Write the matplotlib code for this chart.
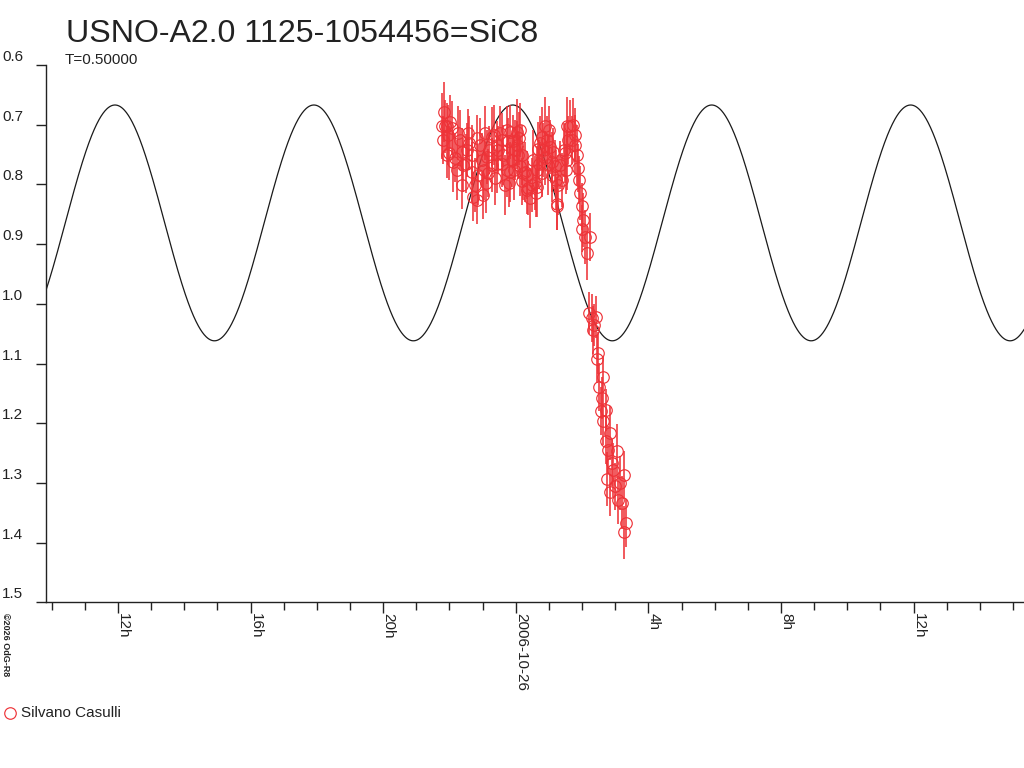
import matplotlib
matplotlib.use('Agg')
import matplotlib.pyplot as plt
import matplotlib.transforms as mtransforms
from matplotlib.lines import Line2D
import numpy as np

plt.rcParams['font.family'] = ['Liberation Sans', 'DejaVu Sans']

title = "USNO-A2.0 1125-1054456=SiC8"
period_label = "T=0.50000"
observer = "Silvano Casulli"
credit = "\u00a92026 OdG-R8"

# observation times: hours relative to 2006-10-26 00:00
hours = [
    -2.24, -2.16, -2.14, -2.09, -2.04, -1.99, -2.06, -2.01, -1.89, -1.84,
    -1.74, -1.69, -1.63, -1.59, -1.51, -1.44, -1.40, -1.33, -1.28, -1.23,
    -1.18, -1.13, -1.03, -0.98, -0.93, -0.90, -0.88, -0.83, -0.73, -0.63,
    -0.58, -0.56, -0.48, -0.43, -0.38, -0.28, -0.23, -0.18, -0.16, -0.19,
    -0.08, -0.02, 0.03, 0.08, 0.09, 0.13, 0.18, 0.23, 0.28, 0.33,
    0.38, 0.43, 0.58, 0.60, 0.63, 0.68, 0.69, 0.73, 0.78, 0.79,
    0.88, 0.87, 0.93, 1.03, 1.09, 1.13, 1.18, 1.20, 1.24, 1.25,
    1.44, 1.49, 1.50, 1.54, 1.64, 1.69, 1.79, 1.80, 1.89, 1.94,
    1.99, 2.04, 2.00, 2.09, 2.24, 2.14,
    -2.20, -1.92, -1.77, -1.62, -1.47, -1.32, -1.17, -1.08, -0.96, -0.81,
    -0.72, -0.66, -0.54, -0.42, -0.33, -0.27, -0.12, -0.06, 0.04, 0.13,
    0.19, 0.34, 0.49, 0.52, 0.64, 0.82, 0.97, 1.00, 1.09, 1.27,
    1.34, 1.40, 1.54, 1.57, 1.73, 1.85, 1.91,
    2.22, 2.30, 2.42, 2.32, 2.49, 2.44, 2.64, 2.52, 2.60, 2.57,
    2.73, 2.63, 2.83, 2.72, 3.05, 2.90, 2.76, 3.27, 3.15, 2.83,
    3.00, 3.20, 3.33, 3.25, 2.36, 2.78, 2.93, 3.09,
]
mags = [
    0.702, 0.679, 0.703, 0.703, 0.717, 0.695, 0.750, 0.748, 0.762, 0.756,
    0.714, 0.726, 0.745, 0.768, 0.765, 0.714, 0.731, 0.779, 0.821, 0.801,
    0.723, 0.784, 0.759, 0.818, 0.714, 0.798, 0.754, 0.781, 0.720, 0.790,
    0.734, 0.765, 0.714, 0.765, 0.751, 0.776, 0.728, 0.712, 0.779, 0.798,
    0.728, 0.742, 0.712, 0.751, 0.723, 0.770, 0.795, 0.781, 0.779, 0.809,
    0.806, 0.823, 0.798, 0.815, 0.804, 0.740, 0.765, 0.731, 0.720, 0.781,
    0.703, 0.756, 0.726, 0.737, 0.762, 0.745, 0.770, 0.793, 0.832, 0.837,
    0.742, 0.748, 0.776, 0.703, 0.703, 0.726, 0.717, 0.734, 0.773, 0.815,
    0.837, 0.860, 0.874, 0.888, 0.888, 0.915,
    0.726, 0.706, 0.776, 0.801, 0.742, 0.751, 0.826, 0.734, 0.776, 0.742,
    0.768, 0.717, 0.742, 0.726, 0.801, 0.709, 0.759, 0.776, 0.734, 0.709,
    0.751, 0.784, 0.801, 0.759, 0.776, 0.742, 0.768, 0.709, 0.784, 0.801,
    0.768, 0.793, 0.759, 0.726, 0.700, 0.751, 0.793,
    1.015, 1.024, 1.022, 1.044, 1.082, 1.092, 1.122, 1.139, 1.158, 1.179,
    1.178, 1.197, 1.216, 1.229, 1.247, 1.266, 1.294, 1.287, 1.300, 1.316,
    1.306, 1.333, 1.367, 1.383, 1.036, 1.245, 1.278, 1.329,
]
errs = [
    0.055, 0.050, 0.045, 0.040, 0.050, 0.045, 0.040, 0.045, 0.050, 0.040,
    0.045, 0.050, 0.040, 0.045, 0.050, 0.040, 0.045, 0.050, 0.040, 0.045,
    0.040, 0.050, 0.045, 0.040, 0.045, 0.050, 0.045, 0.040, 0.050, 0.045,
    0.040, 0.050, 0.045, 0.040, 0.050, 0.045, 0.040, 0.045, 0.050, 0.040,
    0.045, 0.050, 0.055, 0.040, 0.045, 0.050, 0.040, 0.045, 0.050, 0.040,
    0.045, 0.050, 0.045, 0.040, 0.050, 0.045, 0.040, 0.045, 0.050, 0.040,
    0.050, 0.045, 0.040, 0.045, 0.050, 0.040, 0.045, 0.050, 0.045, 0.040,
    0.045, 0.050, 0.040, 0.050, 0.045, 0.040, 0.045, 0.050, 0.040, 0.045,
    0.040, 0.045, 0.040, 0.045, 0.040, 0.045,
    0.040, 0.045, 0.050, 0.040, 0.045, 0.050, 0.040, 0.045, 0.050, 0.040,
    0.045, 0.050, 0.040, 0.045, 0.050, 0.040, 0.045, 0.050, 0.040, 0.045,
    0.050, 0.040, 0.045, 0.050, 0.040, 0.045, 0.050, 0.040, 0.045, 0.050,
    0.040, 0.045, 0.050, 0.040, 0.045, 0.050, 0.040,
    0.035, 0.040, 0.035, 0.040, 0.035, 0.040, 0.035, 0.040, 0.035, 0.040,
    0.035, 0.040, 0.045, 0.040, 0.045, 0.040, 0.045, 0.040, 0.045, 0.040,
    0.040, 0.045, 0.040, 0.045, 0.035, 0.040, 0.045, 0.040,
]

# fitted model curve parameters
model_period_h = 6.0
model_epoch_h = -0.09
model_mean = 0.8645
model_amp = 0.1975

x_range = (-14.18, 15.33)
y_range = (1.5, 0.6)

major_ticks = [-12, -8, -4, 0, 4, 8, 12]
major_labels = ["12h", "16h", "20h", "2006-10-26", "4h", "8h", "12h"]
minor_ticks = list(range(-14, 16))
y_ticks = [0.6, 0.7, 0.8, 0.9, 1.0, 1.1, 1.2, 1.3, 1.4, 1.5]
y_labels = ["0.6", "0.7", "0.8", "0.9", "1.0", "1.1", "1.2", "1.3", "1.4", "1.5"]

W, H = 1024, 768
TXT = '#222222'
RED = '#ee3338'

fig = plt.figure(figsize=(W / 100, H / 100), dpi=100)
ax = fig.add_axes([45.7 / W, (H - 602.3) / H, (W - 45.7) / W, (602.3 - 65) / H])
ax.set_xlim(*x_range)
ax.set_ylim(*y_range)

for s in ['top', 'right']:
    ax.spines[s].set_visible(False)
for s in ['left', 'bottom']:
    ax.spines[s].set_color(TXT)
    ax.spines[s].set_linewidth(1.0)

# model curve
tt = np.linspace(x_range[0], x_range[1], 2000)
model = model_mean - model_amp * np.cos(2 * np.pi * (tt - model_epoch_h) / model_period_h)
ax.plot(tt, model, color='#1a1a1a', lw=0.9, zorder=2)

# observations
ax.errorbar(hours, mags, yerr=errs, fmt='o', ms=8.3, mfc='none', mec=RED,
            mew=0.85, ecolor=RED, elinewidth=1.15, capsize=0, zorder=3)

# y ticks
ax.set_yticks(y_ticks)
ax.set_yticklabels([])
ax.tick_params(axis='y', direction='out', length=7.2, width=1.0, color=TXT)
off = mtransforms.ScaledTranslation(0, 4 / 100, fig.dpi_scale_trans)
ytr = mtransforms.blended_transform_factory(fig.transFigure, ax.transData) + off
for v, lab in zip(y_ticks, y_labels):
    fig.text(2 / W, v, lab, transform=ytr, ha='left', va='baseline',
             fontsize=11, color=TXT)

# x ticks
ax.set_xticks(major_ticks)
ax.set_xticklabels([])
ax.set_xticks(minor_ticks, minor=True)
ax.tick_params(axis='x', which='major', direction='out', length=8, width=1.0, color=TXT)
ax.tick_params(axis='x', which='minor', direction='out', length=5.8, width=1.0, color=TXT)
xoff = mtransforms.ScaledTranslation(-2 / 100, 0, fig.dpi_scale_trans)
xtr = mtransforms.blended_transform_factory(ax.transData, fig.transFigure) + xoff
for v, lab in zip(major_ticks, major_labels):
    fig.text(v, 1 - 613 / H, lab, transform=xtr, rotation=270, ha='left', va='top',
             fontsize=11, color=TXT)

# titles
fig.text(66 / W, 1 - 42.5 / H, title, ha='left', va='baseline', fontsize=23.1, color=TXT)
fig.text(65 / W, 1 - 63.5 / H, period_label, ha='left', va='baseline', fontsize=11, color=TXT)

# credit
fig.text(1 / W, 1 - 613 / H, credit, rotation=270, ha='left', va='top',
         fontsize=6.5, fontweight='bold', color=TXT)

# legend
fig.add_artist(Line2D([10 / W], [1 - 713 / H], marker='o', ms=8.3, mfc='none',
                      mec=RED, mew=0.85, transform=fig.transFigure))
fig.text(21 / W, 1 - 713 / H, observer, ha='left', va='center', fontsize=11, color=TXT)

fig.savefig('out.png', dpi=100, facecolor='white')
